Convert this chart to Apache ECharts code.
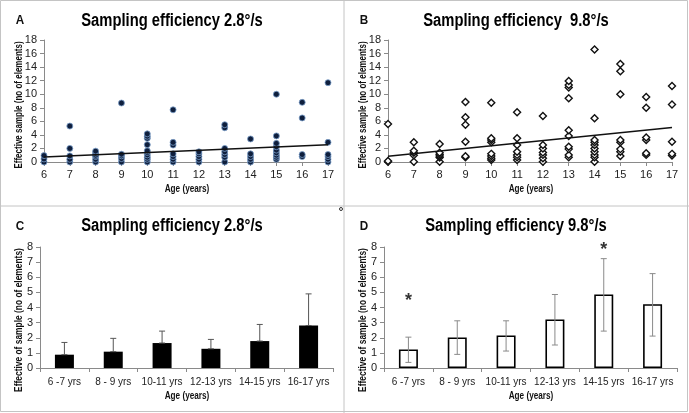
<!DOCTYPE html>
<html>
<head>
<meta charset="utf-8">
<script src="https://cdn.jsdelivr.net/npm/echarts@6/dist/echarts.min.js"></script>
<style>
  html, body { margin: 0; padding: 0; background: #fff; }
  #chart { width: 689px; height: 413px; }
</style>
</head>
<body>
<div id="chart"></div>
<script>
// scatter panels: age (years) vs effective sample
var scatterA = [
  [6, 0], [6, 0.45], [6, 0.95],
  [7, 0], [7, 0.4], [7, 0.9], [7, 2.0], [7, 5.3],
  [8, 0], [8, 0.4], [8, 0.8], [8, 1.0], [8, 1.3], [8, 1.6],
  [9, 0], [9, 0.5], [9, 0.9], [9, 1.15], [9, 8.7],
  [10, 0], [10, 0.4], [10, 0.7], [10, 1.05], [10, 1.4], [10, 1.65], [10, 2.55], [10, 3.5], [10, 3.8], [10, 4.15],
  [11, 0], [11, 0.4], [11, 0.8], [11, 1.2], [11, 2.5], [11, 2.9], [11, 7.7],
  [12, 0], [12, 0.4], [12, 0.8], [12, 1.2], [12, 1.5],
  [13, 0], [13, 0.7], [13, 1.1], [13, 1.5], [13, 2.0], [13, 5.05], [13, 5.5],
  [14, 0], [14, 0.4], [14, 0.8], [14, 1.2], [14, 3.4],
  [15, 0.4], [15, 0.7], [15, 1.0], [15, 1.35], [15, 1.75], [15, 2.25], [15, 2.75], [15, 3.85], [15, 10.0],
  [16, 0.8], [16, 1.1], [16, 6.5], [16, 8.8],
  [17, 0], [17, 0.4], [17, 0.8], [17, 1.1], [17, 2.9], [17, 11.7]
];
var scatterB = [
  [6, 0.05], [6, 0.15], [6, 5.6],
  [7, 0.05], [7, 1.0], [7, 1.35], [7, 1.65], [7, 2.9],
  [8, 0.05], [8, 0.65], [8, 0.9], [8, 1.1], [8, 1.35], [8, 2.65],
  [9, 0.7], [9, 0.85], [9, 3.0], [9, 5.5], [9, 6.6], [9, 8.85],
  [10, 0.3], [10, 0.55], [10, 0.9], [10, 1.2], [10, 2.9], [10, 3.25], [10, 3.5], [10, 8.75],
  [11, 0.3], [11, 0.7], [11, 1.05], [11, 1.5], [11, 2.5], [11, 3.5], [11, 7.35],
  [12, 0.05], [12, 0.55], [12, 1.05], [12, 1.4], [12, 2.0], [12, 2.5], [12, 6.8],
  [13, 0.7], [13, 1.05], [13, 1.9], [13, 2.25], [13, 3.85], [13, 4.7], [13, 9.4], [13, 11.0], [13, 11.35], [13, 11.95],
  [14, 0.05], [14, 0.7], [14, 1.05], [14, 1.5], [14, 2.0], [14, 2.5], [14, 2.9], [14, 3.25], [14, 6.45], [14, 16.6],
  [15, 0.9], [15, 1.5], [15, 1.9], [15, 2.9], [15, 3.25], [15, 10.0], [15, 13.4], [15, 14.45],
  [16, 1.05], [16, 1.3], [16, 3.25], [16, 3.6], [16, 8.0], [16, 9.6],
  [17, 0.95], [17, 1.2], [17, 3.0], [17, 8.5], [17, 11.2]
];
// trend lines (end points)
var trendA = [[6, 0.75], [17, 2.55]];
var trendB = [[6, 0.85], [17, 5.1]];

// bar panels: age groups
var ageGroups = ['6 -7 yrs', '8 - 9 yrs', '10-11 yrs', '12-13 yrs', '14-15 yrs', '16-17 yrs'];
var barC = [0.88, 1.08, 1.65, 1.27, 1.78, 2.81];
var errC_hi = [1.69, 1.96, 2.44, 1.89, 2.88, 4.9];
var barD = [1.23, 2.02, 2.15, 3.21, 4.86, 4.22];
var errD_lo = [0.37, 0.9, 1.12, 1.52, 2.44, 2.11];
var errD_hi = [2.04, 3.12, 3.12, 4.86, 7.23, 6.24];
var starsD = [['6 -7 yrs', 4.7], ['14-15 yrs', 8.05]];

var titles = ['Sampling efficiency 2.8°/s', 'Sampling efficiency  9.8°/s', 'Sampling efficiency 2.8°/s', 'Sampling efficiency 9.8°/s'];

var FONT = "'Liberation Sans', Arial, sans-serif";
var axisGrey = '#8a8a8a';

function valueX(gi) {
  return {
    type: 'value', gridIndex: gi, min: 6, max: 17, interval: 1,
    splitLine: { show: false },
    axisLine: { show: true, lineStyle: { color: axisGrey } },
    axisTick: { show: true, length: 4, lineStyle: { color: axisGrey } },
    axisLabel: { color: '#222', fontSize: 11, fontFamily: FONT, margin: 7 }
  };
}
function valueY(gi, max, interval) {
  return {
    type: 'value', gridIndex: gi, min: 0, max: max, interval: interval,
    splitLine: { show: false },
    axisLine: { show: true, lineStyle: { color: axisGrey } },
    axisTick: { show: true, length: 4, lineStyle: { color: axisGrey } },
    axisLabel: { color: '#222', fontSize: 11, fontFamily: FONT, margin: 7 }
  };
}
function catX(gi) {
  return {
    type: 'category', gridIndex: gi, data: ageGroups,
    axisLine: { show: true, lineStyle: { color: axisGrey } },
    axisTick: { show: true, length: 4, lineStyle: { color: axisGrey } },
    axisLabel: { color: '#222', fontSize: 10, fontFamily: FONT, margin: 9, interval: 0 }
  };
}

function errorBars(xi, yi, lo, hi, color) {
  var data = ageGroups.map(function (g, i) { return [i, lo[i], hi[i]]; });
  return {
    type: 'custom', xAxisIndex: xi, yAxisIndex: yi, z: 5, silent: true,
    data: data,
    renderItem: function (params, api) {
      var x = api.value(0);
      var p1 = api.coord([x, api.value(1)]);
      var p2 = api.coord([x, api.value(2)]);
      var c = 3;
      var st = { stroke: color, lineWidth: 1 };
      return {
        type: 'group',
        children: [
          { type: 'line', shape: { x1: p1[0], y1: p1[1], x2: p2[0], y2: p2[1] }, style: st },
          { type: 'line', shape: { x1: p2[0] - c, y1: p2[1], x2: p2[0] + c, y2: p2[1] }, style: st },
          { type: 'line', shape: { x1: p1[0] - c, y1: p1[1], x2: p1[0] + c, y2: p1[1] }, style: st }
        ]
      };
    }
  };
}

var border = '#c4c4c4';
var graphics = [
  { type: 'rect', shape: { x: 0.5, y: 0.5, width: 687, height: 411 }, style: { fill: 'none', stroke: border, lineWidth: 1 }, silent: true },
  { type: 'line', shape: { x1: 344, y1: 0, x2: 344, y2: 413 }, style: { stroke: border, lineWidth: 1 }, silent: true },
  { type: 'line', shape: { x1: 0, y1: 206, x2: 689, y2: 206 }, style: { stroke: border, lineWidth: 1 }, silent: true },
  { type: 'circle', shape: { cx: 341, cy: 209, r: 1.5 }, style: { fill: 'none', stroke: '#333', lineWidth: 1 }, silent: true }
];
var letterPos = [['A', 20, 20], ['B', 364, 20], ['C', 20, 226], ['D', 364, 226]];
letterPos.forEach(function (l) {
  graphics.push({ type: 'text', x: l[1], y: l[2], scaleX: 0.9, style: { text: l[0], fontSize: 13, fontWeight: 'bold', fontFamily: FONT, fill: '#111', align: 'center', verticalAlign: 'middle' } });
});
var titlePos = [[172, 21], [516, 21], [172, 226], [516, 226]];
titlePos.forEach(function (t, i) {
  graphics.push({ type: 'text', x: t[0], y: t[1], scaleX: 0.82, style: { text: titles[i], fontSize: 18, fontWeight: 'bold', fontFamily: FONT, fill: '#000', align: 'center', verticalAlign: 'middle' } });
});
var yNames = [
  ['Effective sample (no of elements)', 19, 105, 0.8],
  ['Effective sample (no of elements)', 363, 105, 0.8],
  ['Effective of sample (no of elements)', 19, 320, 0.84],
  ['Effective of sample (no of elements)', 363, 320, 0.84]
];
yNames.forEach(function (n) {
  graphics.push({ type: 'text', x: n[1], y: n[2], rotation: Math.PI / 2, scaleX: n[3], style: { text: n[0], fontSize: 10, fontWeight: 'bold', fontFamily: FONT, fill: '#111', align: 'center', verticalAlign: 'middle' } });
});
var xNames = [[187, 189], [531, 189], [187, 396], [531, 396]];
xNames.forEach(function (n) {
  graphics.push({ type: 'text', x: n[0], y: n[1], scaleX: 0.82, style: { text: 'Age (years)', fontSize: 10, fontWeight: 'bold', fontFamily: FONT, fill: '#111', align: 'center', verticalAlign: 'middle' } });
});

var option = {
  animation: false,
  backgroundColor: '#fff',
  textStyle: { fontFamily: FONT },
  grid: [
    { left: 44, top: 40, width: 284, height: 122 },
    { left: 388, top: 40, width: 284, height: 122 },
    { left: 40, top: 247, width: 293, height: 121 },
    { left: 384, top: 247, width: 293, height: 121 }
  ],
  xAxis: [valueX(0), valueX(1), catX(2), catX(3)],
  yAxis: [valueY(0, 18, 2), valueY(1, 18, 2), valueY(2, 8, 1), valueY(3, 8, 1)],
  graphic: graphics,
  series: [
    {
      type: 'scatter', xAxisIndex: 0, yAxisIndex: 0, data: scatterA,
      symbol: 'circle', symbolSize: 6,
      itemStyle: { color: '#0f1f3d', borderColor: '#7b9fcc', borderWidth: 0.8, opacity: 1 }
    },
    {
      type: 'line', xAxisIndex: 0, yAxisIndex: 0, data: trendA, showSymbol: false, symbol: 'none',
      lineStyle: { color: '#111', width: 1.5 }, z: 4
    },
    {
      type: 'scatter', xAxisIndex: 1, yAxisIndex: 1, data: scatterB,
      symbol: 'diamond', symbolSize: 7,
      itemStyle: { color: '#fff', borderColor: '#111', borderWidth: 1.4, opacity: 1 }
    },
    {
      type: 'line', xAxisIndex: 1, yAxisIndex: 1, data: trendB, showSymbol: false, symbol: 'none',
      lineStyle: { color: '#111', width: 1.5 }, z: 4
    },
    {
      type: 'bar', xAxisIndex: 2, yAxisIndex: 2, data: barC, barWidth: 19,
      itemStyle: { color: '#000' }
    },
    errorBars(2, 2, barC, errC_hi, '#555'),
    {
      type: 'bar', xAxisIndex: 3, yAxisIndex: 3, data: barD, barWidth: 19,
      itemStyle: { color: '#fff', borderColor: '#000', borderWidth: 1.6 }
    },
    errorBars(3, 3, errD_lo, errD_hi, '#8a8a8a'),
    {
      type: 'scatter', xAxisIndex: 3, yAxisIndex: 3, data: starsD, clip: false,
      symbol: 'circle', symbolSize: 2, itemStyle: { color: 'rgba(0,0,0,0)' }, z: 6,
      label: { show: true, formatter: '*', position: 'inside', fontSize: 18, fontWeight: 'bold', fontFamily: FONT, color: '#000', offset: [0, 4] }
    }
  ]
};

var chart = echarts.init(document.getElementById('chart'), null, { renderer: 'canvas' });
chart.setOption(option);
</script>
</body>
</html>
